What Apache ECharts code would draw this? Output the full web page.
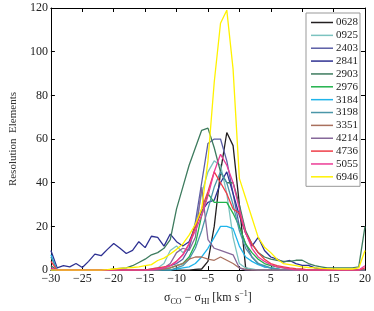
<!DOCTYPE html>
<html><head><meta charset="utf-8">
<script src="https://cdn.jsdelivr.net/npm/echarts@6/dist/echarts.min.js"></script>
<style>html,body{margin:0;padding:0;background:#fff}#c{width:374px;height:311px}</style>
</head><body><div id="c"></div>
<script>
const xs = [-30,-29,-28,-27,-26,-25,-24,-23,-22,-21,-20,-19,-18,-17,-16,-15,-14,-13,-12,-11,-10,-9,-8,-7,-6,-5,-4,-3,-2,-1,0,1,2,3,4,5,6,7,8,9,10,11,12,13,14,15,16,17,18,19,20];
const names = ['0628','0925','2403','2841','2903','2976','3184','3198','3351','4214','4736','5055','6946'];
const colors = ['#231f20','#7cc3c0','#5b5ea6','#2e3192','#3d7b5e','#21b24b','#1fb4ea','#4a96a8','#a9705d','#86689a','#ef3d47','#ec3c96','#fff200'];
const s0628 = [0,0,0,0,0,0,0,0,0,0,0,0,0,0,0,0,0,0,0,0,0,0,0, 0.3,0.5,4,20,45,63,57,30,1, 0,0,0,0,0,0,0,0,0,0,0,0,0,0,0,0,0,0,0];
const s0925 = [0,0,0,0,0,0,0,0,0,0,0,0,0,0,0,0, 0.5,1,3,9,11,8,10,20,35,45,50,48,35,15,3,1,0.5, 0,0,0,0,0,0,0,0,0,0,0,0,0,0,0,0,0,0];
const s2403 = [0,0,0,0,0,0,0,0,0,0,0,0,0,0,0,0,0, 0.5,1,2,3,5,10,22,40,58,60,60,50,35,20,12,6,3,1.5,1,0.5, 0,0,0,0,0,0,0,0,0,0,0,0,0,0];
const s2841 = [9,1,2,1.5,3,1.2,4,7.3,6.6,9.5,12.2,10,7.6,9,13,10.3,15.5,15,11,16.5,13,11,13,20,27,31,32,40,45,35,25,17,11,15,9,6,5,3.7,4.4,3,2.2,2.2,1,0.5,0.3,0,0,0,0,0,0];
const s2903 = [2,0,0,0,0,0,0,0,0,0, 0.5,0.8,1,2,3.5,5,7,8,10,14,28,38,48,56,64,65,56,45,40,40,30,18,12,8,6,5,4.5,4,4,4.5,4.5,3,2,1.5,1,1,1,1,1,1.5,20];
const s2976 = [0,0,0,0,0,0,0,0,0,0,0,0,0,0,0,0,0,0, 0.5,1,2,3,6,12,25,35,31,31,31,26,20,12,8,5,3,2,1.5,1,0.5, 0,0,0,0,0,0,0,0,0,0,0,0];
const s3184 = [7, 0,0,0,0,0,0,0,0,0,0,0,0,0,0,0,0,0,0,0, 0.5,1,1.5,3,6,10,15,20,20,19,11,6,4,2.5,1.5,1,0.5, 0,0,0,0,0,0,0,0,0,0,0,0,0,0];
const s3198 = [6, 0,0,0,0,0,0,0,0,0,0,0,0,0,0,0,0,0,0,0, 1,2,5,10,18,28,38,45,40,30,18,10,6,3,2,1,0.5, 0,0,0,0,0,0,0,0,0,0,0,0,0,0];
const s3351 = [0,0,0,0,0,0,0,0,0,0,0,0,0,0,0,0,0,0, 0.5,1,2,3,5,6,6,5,4.5,6,4.5,3,1,0.3, 0,0,0,0,0,0,0,0,0,0,0,0,0,0,0,0,0,0,0];
const s4214 = [0,0,0,0,0,0,0,0,0,0,0,0,0,0,0,0,0,0, 1,3,8,10,9,15,38,14,10,9,8,7,1, 0,0,0,0,0,0,0,0,0,0,0,0,0,0,0,0,0,0,0,0];
const s4736 = [4, 0,0,0,0,0,0,0,0,0,0,0,0,0,0,0, 0.5,1,1.5,2,4,7,12,20,28,36,45,40,35,28,26,17,12,8,5,3,2,1.5,1,0.7,0.5, 0,0,0,0,0,0,0,0,0, 1];
const s5055 = [1, 0,0,0,0,0,0,0,0,0,0,0,0,0,0,0,0, 0.5,1,2,4,7,12,18,25,34,45,53,48,40,28,17,10,6,4,2.5,1.5,1,0.5, 0,0,0,0,0,0,0,0,0,0,0, 2];
const s6946 = [0,0,0,0,0,0,0,0,0,0.2, 0.5,0.8,1,1.2,1.5,2,2.5,4.4,5.5,7.4,9.5,12,16,21,28,50,86,113,119,92,42,33,24,15,10.5,8,5,3,2.5,2,1.5,1.2,1,0.8,0.7,0.6,0.5,0.5,0.5,1,9];
const seriesVals = [s0628,s0925,s2403,s2841,s2903,s2976,s3184,s3198,s3351,s4214,s4736,s5055,s6946];
const xTicks = [-30,-25,-20,-15,-10,-5,0,5,10,15,20];
const yTicks = [0,20,40,60,80,100,120];

const FONT = 'Liberation Serif';
const chart = echarts.init(document.getElementById('c'), null, {renderer:'canvas'});
const fmt = v => String(v).replace('-', '\u2212');
const axisCommon = {
  axisLine:{show:true,onZero:false,lineStyle:{color:'#000',width:1}},
  axisTick:{show:true,inside:true,length:4,lineStyle:{color:'#000'}},
  splitLine:{show:false}
};
const option = {
  animation:false,
  backgroundColor:'#fff',
  grid:{left:34,right:9,top:8,bottom:31},
  legend:{
    data:names, orient:'vertical', left:306, top:13,
    icon:'rect', itemWidth:22, itemHeight:1.5, itemGap:1.86,
    padding:[4,2,4,5],
    borderColor:'#999', borderWidth:1, backgroundColor:'#fff',
    textStyle:{fontFamily:FONT,fontSize:11,color:'#222',lineHeight:10, padding:[0,0,0,-2]}
  },
  xAxis:[
    Object.assign({type:'value',min:-30,max:20,interval:5,position:'bottom',
      axisLabel:{fontFamily:FONT,fontSize:12,color:'#222',margin:3,formatter:fmt},
      name:'{a|\u03c3}{s|CO}{a| \u2212 \u03c3}{s|HI}{a| [km s}{p|\u22121}{a|]}',
      nameLocation:'middle', nameGap:18,
      nameTextStyle:{rich:{
        a:{fontFamily:FONT,fontSize:12,color:'#222',lineHeight:16,verticalAlign:'middle'},
        s:{fontFamily:FONT,fontSize:8,color:'#222',lineHeight:16,verticalAlign:'bottom'},
        p:{fontFamily:FONT,fontSize:8,color:'#222',lineHeight:16,verticalAlign:'top'}
      }}
    }, axisCommon),
    Object.assign({type:'value',min:-30,max:20,interval:5,position:'top',axisLabel:{show:false}}, axisCommon)
  ],
  yAxis:[
    Object.assign({type:'value',min:0,max:120,interval:20,position:'left',
      axisLabel:{fontFamily:FONT,fontSize:12,color:'#222',margin:3},
      name:'Resolution  Elements', nameLocation:'middle', nameGap:24, nameRotate:90,
      nameTextStyle:{fontFamily:FONT,fontSize:11,color:'#333'}
    }, axisCommon),
    Object.assign({type:'value',min:0,max:120,interval:20,position:'right',axisLabel:{show:false}}, axisCommon)
  ],
  series: names.map((n,i)=>({
    name:n, type:'line', symbol:'none', xAxisIndex:0, yAxisIndex:0,
    data: xs.map((x,j)=>[x, seriesVals[i][j]]),
    lineStyle:{width:1.3,color:colors[i]}, itemStyle:{color:colors[i]}
  }))
};
chart.setOption(option);
</script></body></html>
